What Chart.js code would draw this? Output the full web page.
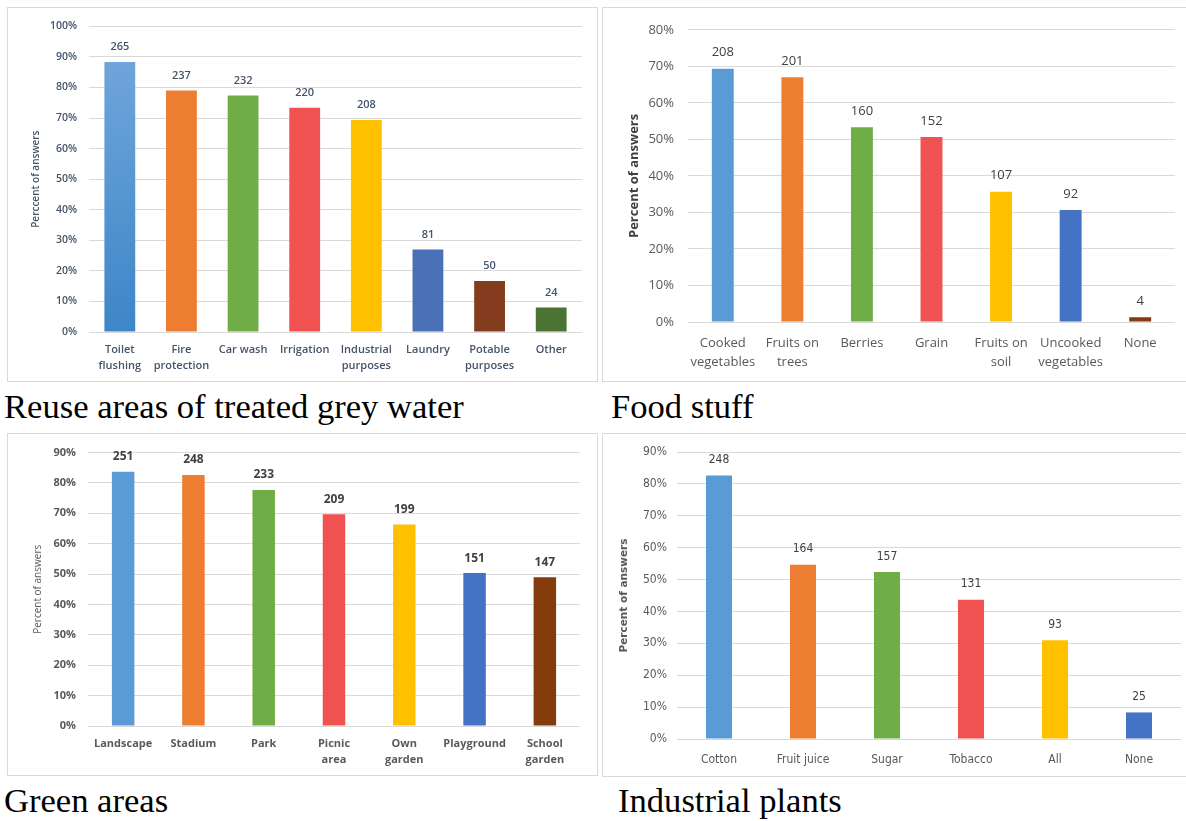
<!DOCTYPE html>
<html>
<head>
<meta charset="utf-8">
<script src="https://cdn.jsdelivr.net/npm/chart.js@4/dist/chart.umd.min.js"></script>
<style>
  html, body { margin: 0; padding: 0; background: #fff; }
  body { width: 1186px; height: 821px; position: relative; overflow: hidden; }
  .panel { position: absolute; border: 1px solid #d9d9d9; box-sizing: border-box; background: #fff; overflow: hidden; }
  .panel canvas { position: absolute; left: 0; top: 0; }
  .cap { position: absolute; font-family: "Liberation Serif", "Times New Roman", serif; font-size: 34.6px; line-height: 34px; color: #000; white-space: nowrap; }
</style>
</head>
<body>

<div class="panel" style="left:7px;top:7px;width:591px;height:375px;"><canvas id="reuse" width="589" height="373"></canvas></div>
<div class="panel" style="left:602px;top:7px;width:600px;height:375px;"><canvas id="food" width="598" height="373"></canvas></div>
<div class="panel" style="left:7px;top:433px;width:591px;height:343px;"><canvas id="green" width="589" height="341"></canvas></div>
<div class="panel" style="left:602px;top:433px;width:600px;height:344px;"><canvas id="plants" width="598" height="342"></canvas></div>

<div class="cap" style="left:4px;top:389px;">Reuse areas of treated grey water</div>
<div class="cap" style="left:611px;top:389px;">Food stuff</div>
<div class="cap" style="left:4px;top:783px;">Green areas</div>
<div class="cap" style="left:618px;top:783px;">Industrial plants</div>

<script>
// Survey size: every bar is the share of respondents giving that answer.
const respondents = 300;

// Reuse areas of treated grey water
const reuseCategories = [['Toilet', 'flushing'], ['Fire', 'protection'], 'Car wash', 'Irrigation',
  ['Industrial', 'purposes'], 'Laundry', ['Potable', 'purposes'], 'Other'];
const reuseCounts = [265, 237, 232, 220, 208, 81, 50, 24];
const reuseAxisMax = 100;

// Food stuff
const foodCategories = [['Cooked', 'vegetables'], ['Fruits on', 'trees'], 'Berries', 'Grain',
  ['Fruits on', 'soil'], ['Uncooked', 'vegetables'], 'None'];
const foodCounts = [208, 201, 160, 152, 107, 92, 4];
const foodAxisMax = 80;

// Green areas
const greenCategories = ['Landscape', 'Stadium', 'Park', ['Picnic', 'area'], ['Own', 'garden'],
  'Playground', ['School', 'garden']];
const greenCounts = [251, 248, 233, 209, 199, 151, 147];
const greenAxisMax = 90;

// Industrial plants
const plantCategories = ['Cotton', 'Fruit juice', 'Sugar', 'Tobacco', 'All', 'None'];
const plantCounts = [248, 164, 157, 131, 93, 25];
const plantAxisMax = 90;

const tickStep = 10;
const yAxisTitle = 'Percent of answers';
const yAxisTitleReuse = 'Perccent of answers';

const officeColors = ['#5B9BD5', '#ED7D31', '#70AD47', '#F05252', '#FFC000', '#4472C4', '#843C0C'];
const reuseColors = ['#5B9BD5', '#ED7D31', '#70AD47', '#F05252', '#FFC000', '#4A70B7', '#843C1E', '#4B7334'];

// Count labels drawn above each bar
const valueLabels = {
  id: 'valueLabels',
  afterDatasetsDraw(chart, args, opts) {
    const ctx = chart.ctx;
    const meta = chart.getDatasetMeta(0);
    ctx.save();
    ctx.font = opts.font;
    ctx.fillStyle = opts.color;
    ctx.textAlign = 'center';
    ctx.textBaseline = 'middle';
    meta.data.forEach((bar, i) => {
      ctx.fillText(String(opts.counts[i]), bar.x, bar.y - opts.gap);
    });
    ctx.restore();
  }
};

function toPercent(counts) {
  return counts.map(c => c / respondents * 100);
}

function buildChart(id, s) {
  return new Chart(document.getElementById(id), {
    type: 'bar',
    data: {
      labels: s.labels,
      datasets: [{
        data: toPercent(s.counts),
        backgroundColor: s.colors,
        barPercentage: s.bar,
        categoryPercentage: 1,
        borderWidth: 0
      }]
    },
    options: {
      responsive: false,
      animation: false,
      devicePixelRatio: 1,
      layout: { padding: { top: s.padTop, right: s.padRight, left: 0, bottom: 0 } },
      plugins: {
        legend: { display: false },
        tooltip: { enabled: false },
        valueLabels: { counts: s.counts, font: s.valueFont, color: s.valueColor, gap: s.valueGap }
      },
      scales: {
        x: {
          grid: { display: false },
          border: { display: false },
          ticks: {
            autoSkip: false, maxRotation: 0, minRotation: 0,
            color: s.catColor, font: s.catFont, padding: s.catPad
          },
          afterFit: sc => { sc.height = s.xHeight; }
        },
        y: {
          min: 0, max: s.max,
          grid: { color: '#D9D9D9', lineWidth: 1, drawTicks: false },
          border: { display: false },
          ticks: {
            stepSize: tickStep, padding: s.tickPad, color: s.tickColor, font: s.tickFont,
            callback: v => v + '%'
          },
          title: {
            display: true, text: s.title, color: s.titleColor, font: s.titleFont,
            padding: { top: s.titlePad, bottom: 0 }
          },
          afterFit: sc => { sc.width = s.yWidth; }
        }
      }
    },
    plugins: [valueLabels]
  });
}

// Toilet flushing bar carries a light-to-dark vertical gradient
function reuseFill(ctx) {
  const area = ctx.chart.chartArea;
  if (ctx.dataIndex !== 0 || !area) return reuseColors[ctx.dataIndex];
  const g = ctx.chart.ctx.createLinearGradient(0, area.top, 0, area.bottom);
  g.addColorStop(0, '#75A9DD');
  g.addColorStop(1, '#3D86C8');
  return g;
}

buildChart('reuse', {
  labels: reuseCategories, counts: reuseCounts, colors: reuseFill, max: reuseAxisMax, bar: 0.5,
  padTop: 18, padRight: 15, yWidth: 81, xHeight: 49,
  tickPad: 12, tickColor: '#44546A', tickFont: { family: 'Open Sans', size: 10.5, weight: '600' },
  catPad: 2, catColor: '#44546A', catFont: { family: 'Open Sans', size: 11, weight: '600', lineHeight: 1.42 },
  title: yAxisTitleReuse, titleColor: '#44546A', titleFont: { family: 'Open Sans', size: 10, weight: '600', lineHeight: 1.2 }, titlePad: 22,
  valueFont: '600 11px "Open Sans"', valueColor: '#44546A', valueGap: 15
});

buildChart('food', {
  labels: foodCategories, counts: foodCounts, colors: officeColors, max: foodAxisMax, bar: 0.315,
  padTop: 19, padRight: 26, yWidth: 85, xHeight: 59,
  tickPad: 14, tickColor: '#595959', tickFont: { family: 'Open Sans', size: 13 },
  catPad: 4, catColor: '#595959', catFont: { family: 'Open Sans', size: 13, lineHeight: 1.46 },
  title: yAxisTitle, titleColor: '#404040', titleFont: { family: 'Open Sans', size: 13, weight: 'bold', lineHeight: 1.2 }, titlePad: 23,
  valueFont: '13px "Open Sans"', valueColor: '#404040', valueGap: 16
});

buildChart('green', {
  labels: greenCategories, counts: greenCounts, colors: officeColors, max: greenAxisMax, bar: 0.32,
  padTop: 17, padRight: 17, yWidth: 80, xHeight: 49,
  tickPad: 12, tickColor: '#595959', tickFont: { family: 'Open Sans', size: 11, weight: 'bold' },
  catPad: 2, catColor: '#595959', catFont: { family: 'Open Sans', size: 11, weight: 'bold', lineHeight: 1.42 },
  title: yAxisTitle, titleColor: '#595959', titleFont: { family: 'Open Sans', size: 10, lineHeight: 1.2 }, titlePad: 24,
  valueFont: 'bold 12px "Open Sans"', valueColor: '#404040', valueGap: 15
});

buildChart('plants', {
  labels: plantCategories, counts: plantCounts, colors: officeColors, max: plantAxisMax, bar: 0.31,
  padTop: 18, padRight: 20, yWidth: 74, xHeight: 37,
  tickPad: 10, tickColor: '#595959', tickFont: { family: "'Liberation Sans Narrow', 'DejaVu Sans Condensed', sans-serif", size: 12 },
  catPad: 6, catColor: '#595959', catFont: { family: "'Liberation Sans Narrow', 'DejaVu Sans Condensed', sans-serif", size: 12, lineHeight: 1.2 },
  title: yAxisTitle, titleColor: '#595959', titleFont: { family: 'DejaVu Sans', size: 10.5, weight: 'bold', lineHeight: 1.2 }, titlePad: 15,
  valueFont: "12px 'Liberation Sans Narrow', 'DejaVu Sans Condensed', sans-serif", valueColor: '#404040', valueGap: 15.5
});
</script>
</body>
</html>
